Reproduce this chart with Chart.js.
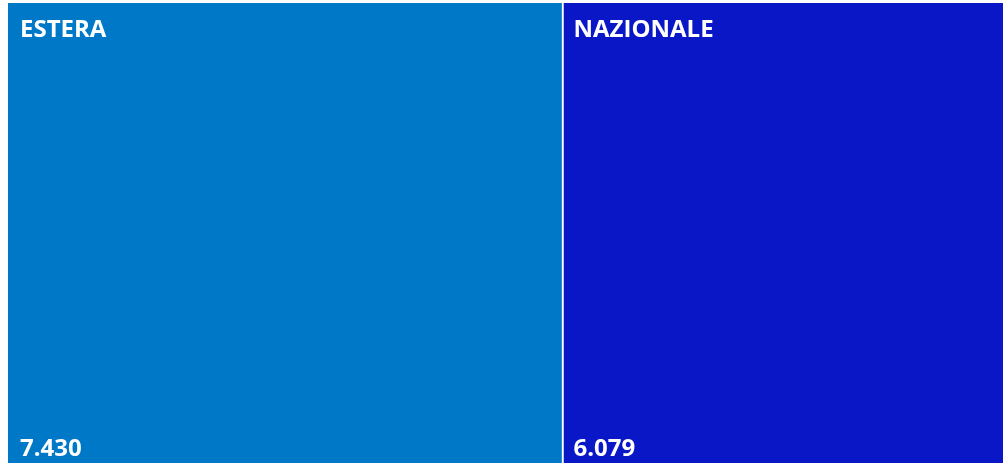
<!DOCTYPE html>
<html>
<head>
<meta charset="utf-8">
<script src="https://cdn.jsdelivr.net/npm/chart.js@4"></script>
<style>
  html, body { margin: 0; padding: 0; background: #fff; overflow: hidden; }
  #wrap { position: absolute; left: 8px; top: 3px; width: 1010px; height: 462px; }
</style>
</head>
<body>
<div id="wrap"><canvas id="myChart"></canvas></div>
<script>
const categories = ['ESTERA', 'NAZIONALE'];
const values = [7430, 6079];
const colors = ['#0078C8', '#0A17C6'];

const total = values.reduce((a, b) => a + b, 0);

// writes the name at the top-left and the value at the bottom-left of each cell
const cellLabels = {
  id: 'cellLabels',
  afterDatasetsDraw(chart) {
    const ctx = chart.ctx;
    ctx.save();
    ctx.fillStyle = '#ffffff';
    ctx.font = 'bold 24px "Open Sans", "Noto Sans", sans-serif';
    ctx.textBaseline = 'alphabetic';
    ctx.textAlign = 'left';
    chart.data.datasets.forEach((ds, i) => {
      const el = chart.getDatasetMeta(i).data[0];
      const left = Math.min(el.base, el.x);
      const top = el.y - el.height / 2;
      const bottom = el.y + el.height / 2;
      const x0 = i === 0 ? left + 12 : left + 10;
      ctx.fillText(ds.label, x0, top + 34);
      ctx.fillText(ds.data[0].toLocaleString('it-IT'), x0, bottom - 9);
    });
    ctx.restore();
  }
};

const data = {
  labels: [''],
  datasets: categories.map((c, i) => ({
    label: c,
    data: [values[i]],
    backgroundColor: colors[i],
    borderColor: '#ffffff',
    borderWidth: i === 0 ? { right: 2 } : 0,
    borderSkipped: false,
    barPercentage: 1,
    categoryPercentage: 1
  }))
};

const config = {
  type: 'bar',
  data: data,
  options: {
    indexAxis: 'y',
    responsive: true,
    maintainAspectRatio: false,
    animation: false,
    layout: { padding: 0 },
    plugins: { legend: { display: false }, tooltip: { enabled: false } },
    scales: {
      x: { stacked: true, min: 0, max: total, display: false },
      y: { stacked: true, display: false }
    }
  },
  plugins: [cellLabels]
};

const myChart = new Chart(document.getElementById('myChart'), config);
</script>
</body>
</html>
